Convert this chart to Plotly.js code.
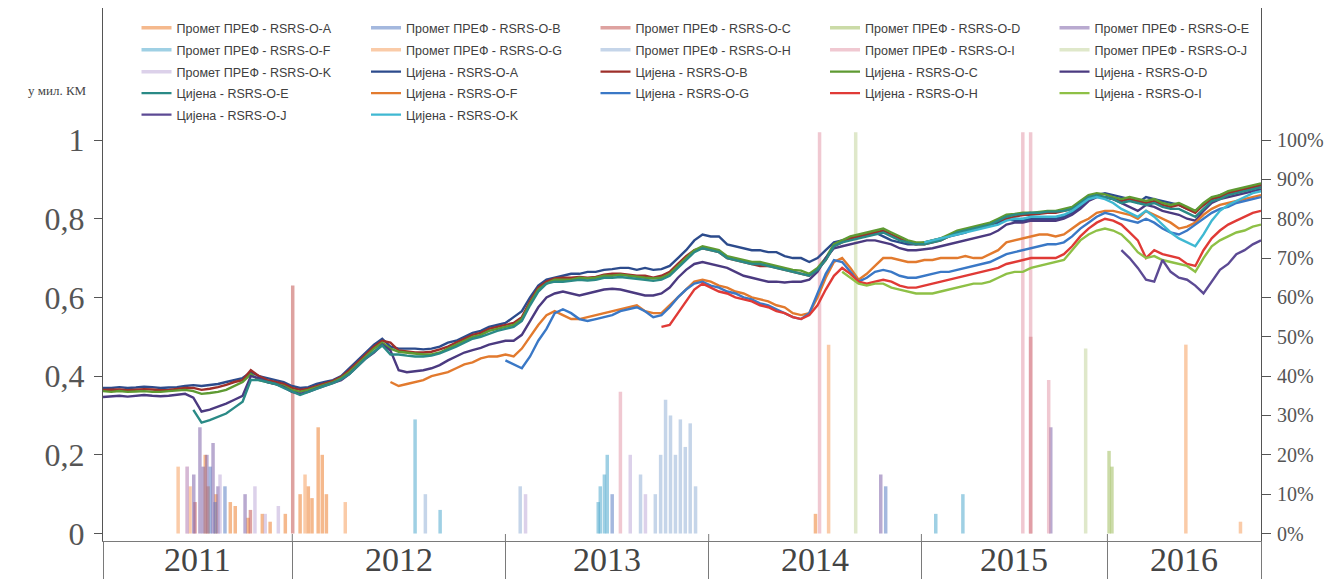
<!DOCTYPE html>
<html>
<head>
<meta charset="utf-8">
<script src="https://cdn.plot.ly/plotly-3.0.1.min.js"></script>
<style>html,body{margin:0;padding:0;background:#fff;}#chart{width:1332px;height:581px;}</style>
</head>
<body>
<div id="chart"></div>
<script>
// ---- time axis (trading-week index) ----
const yearLabels = ['2011', '2012', '2013', '2014', '2015', '2016'];
const yearBounds = [0, 46.1, 98.0, 147.5, 199.3, 244.6, 282];
const sampleStep = 2; // weeks between price observations
const nSamples = 142;

const seriesCodes = ['A', 'B', 'C', 'D', 'E', 'F', 'G', 'H', 'I', 'J', 'K'];

// ---- Промет ПРЕФ (turnover, million KM): spike weeks and values ----
const promA_w = [24.9, 25.6, 27.5, 31.0, 32.2, 35.3, 38.8, 40.7, 44.4, 48.0, 50.0, 50.9, 52.4, 53.4, 54.4, 173.5];
const promA_v = [0.20, 0.12, 0.10, 0.08, 0.07, 0.04, 0.05, 0.03, 0.05, 0.10, 0.12, 0.09, 0.27, 0.20, 0.10, 0.05];
const promB_w = [26.1, 27.3, 29.7, 124.0, 190.6];
const promB_v = [0.17, 0.08, 0.12, 0.10, 0.12];
const promC_w = [22.4, 35.9, 46.2, 225.9];
const promC_v = [0.08, 0.06, 0.63, 0.50];
const promD_w = [245.0, 245.7];
const promD_v = [0.21, 0.17];
const promE_w = [22.1, 23.6, 24.4, 25.3, 26.8, 28.0, 34.6, 189.4, 230.8];
const promE_v = [0.15, 0.27, 0.17, 0.20, 0.23, 0.12, 0.10, 0.15, 0.27];
const promF_w = [76.0, 82.1, 120.6, 121.1, 122.1, 122.8, 202.8, 209.4];
const promF_v = [0.29, 0.06, 0.08, 0.12, 0.15, 0.20, 0.05, 0.10];
const promG_w = [18.3, 21.2, 49.2, 59.0, 176.7, 263.7, 277.0];
const promG_v = [0.17, 0.12, 0.15, 0.08, 0.48, 0.48, 0.03];
const promH_w = [78.5, 101.6, 130.9, 134.5, 135.8, 137.0, 138.2, 139.4, 140.6, 141.8, 143.0, 144.3];
const promH_v = [0.10, 0.12, 0.15, 0.10, 0.20, 0.34, 0.30, 0.20, 0.29, 0.22, 0.28, 0.12];
const promI_w = [20.5, 126.0, 174.5, 224.0, 225.9, 230.3];
const promI_v = [0.17, 0.36, 1.02, 1.02, 1.02, 0.39];
const promJ_w = [183.3, 239.3];
const promJ_v = [1.02, 0.47];
const promK_w = [20.5, 28.5, 37.0, 39.5, 42.7, 102.9, 128.4, 132.1];
const promK_v = [0.17, 0.15, 0.12, 0.05, 0.07, 0.10, 0.20, 0.10];

// ---- Цијена (price, % of nominal), one value every 2 weeks from start index ----
const priceA_start = 0;
const priceA = [37.0,37.0,37.2,37.0,37.1,37.3,37.2,37.0,37.1,37.2,37.5, 37.7,37.5,37.8,38.0,38.5,39.0, 39.5,41.0,40.0,39.5, 39.0,38.5,37.5,37.0, 37.2,38.0,38.5,39.0,40.0,42.0, 44.0,46.0,48.0,49.5,47.5, 47.0,47.0,47.0,46.8,47.0, 47.5,48.5,49.0,50.0,51.0, 51.5,52.5,53.0,53.5,
 55.0,56.5,60.0,63.0,64.5,65.0, 65.5,66.0,66.0,66.5,66.5, 67.0,67.2,67.5,67.5,67.0, 67.5,67.0,67.2,68.0,70.0, 72.0,74.5,76.0,75.5, 75.5,73.5,73.0,72.5,72.0,72.0, 71.5,71.5,70.5,70.0,70.0, 69.0,70.0,72.0,74.0,74.5, 75.0,75.5,76.0,76.5,75.5, 74.5,74.0,73.5,73.5,74.0, 74.5,75.0,75.5,76.0,76.5, 77.5,78.0,78.5,79.0,80.0, 79.5,79.5,80.0,80.0,80.0, 80.0,80.5,81.5,83.0,85.0, 86.0,86.5,86.0,85.5,85.0, 84.0,85.5,85.0,84.5,84.0, 83.5,82.5,82.0,83.5,85.0, 86.0,86.5,87.0,87.5,88.0,88.5];
const priceB_start = 0;
const priceB = [36.5,36.5,36.6,36.4,36.5,36.7,36.6,36.4,36.5,36.7,37.0, 37.0,36.5,36.8,37.2,37.8,38.5, 39.0,41.5,40.0,39.0, 38.5,38.0,37.0,36.5, 36.8,37.5,38.0,38.8,39.8,41.5, 43.5,45.5,47.5,49.0,48.5, 46.5,46.2,46.0,46.0,46.2, 46.8,47.5,48.5,49.5,50.5, 51.0,52.0,52.5,53.0,
 53.5,55.0,59.0,62.5,64.0,64.8, 65.0,65.0,65.2,65.0,65.2, 65.8,66.0,66.0,65.8,65.5, 65.5,65.0,65.5,66.5,68.5, 70.5,72.0,72.5,72.0, 71.5,70.0,69.5,69.0,68.5,68.0, 68.0,67.5,67.0,66.5,66.0, 65.5,67.0,69.5,73.0,74.0, 75.0,75.5,76.0,76.5,77.0, 76.0,75.0,74.0,73.5,73.5, 74.0,74.5,75.5,76.5,77.0, 77.5,78.0,78.5,79.5,80.0, 80.5,81.0,81.0,81.2,81.5, 81.5,82.0,82.5,84.0,85.5, 86.0,85.5,85.0,84.5,85.0, 84.5,84.0,84.5,83.5,83.0, 83.5,82.5,81.5,83.5,85.0, 85.5,86.5,87.0,87.5,88.0,88.5];
const priceC_start = 0;
const priceC = [36.2,36.0,36.2,36.0,36.1,36.2,36.0,36.0,36.2,36.3,36.5, 36.2,35.5,35.7,36.0,36.5,37.5, 38.5,40.5,39.0,38.5, 38.0,37.5,36.5,36.0, 36.5,37.2,37.8,38.5,39.5,41.0, 43.0,45.0,47.0,48.5,47.0, 46.2,46.0,45.8,45.5,45.5, 46.0,47.0,48.0,49.0,50.0, 50.5,51.5,52.0,52.5,
 53.0,54.5,58.5,62.0,63.5,64.5, 64.5,64.5,65.0,64.8,65.0, 65.5,65.5,65.8,65.5,65.2, 65.0,64.8,65.0,66.0,68.0, 70.0,72.0,73.0,72.5, 72.0,70.5,70.0,69.5,69.0,69.0, 68.5,68.0,67.5,67.0,66.8, 66.0,67.5,70.0,73.5,74.5, 75.5,76.0,76.5,77.0,77.5, 76.5,75.5,74.5,74.0,74.0, 74.5,75.0,76.0,77.0,77.5, 78.0,78.5,79.0,80.0,81.0, 81.2,81.5,81.5,81.8,82.0, 82.0,82.5,83.0,84.5,86.0, 86.5,86.2,85.5,85.0,85.5, 85.0,84.5,85.0,84.0,83.5, 84.0,83.0,82.0,84.0,85.5, 86.0,87.0,87.5,88.0,88.5,89.0];
const priceD_start = 0;
const priceD = [34.7,34.8,35.0,34.8,35.0,35.2,35.0,34.9,35.0,35.2,35.5, 34.5,31.0,31.5,32.2,33.0,34.0, 35.0,40.0,39.5,38.5, 38.0,37.2,36.0,35.5, 36.0,36.8,37.5,38.2,39.0,40.5, 42.5,44.5,46.0,48.0,46.5, 41.5,41.0,41.2,41.5,42.0, 42.8,44.0,45.0,46.0,46.6, 47.2,48.0,48.5,49.0,
 49.0,50.5,54.0,57.5,60.0,61.0, 61.5,61.0,60.5,61.0,61.5, 62.0,62.2,62.0,61.5,61.0, 60.5,60.5,61.0,62.5,65.0, 67.0,68.5,69.0,68.5, 68.0,67.5,66.5,65.5,65.0,64.5, 64.0,64.0,63.8,64.0,64.0, 64.5,66.5,70.0,72.5,73.0, 73.5,74.0,74.5,74.5,74.0, 73.5,72.5,72.0,72.0,72.2, 72.5,73.0,73.5,74.0,74.5, 75.0,75.5,76.0,77.0,78.5, 79.0,79.0,79.5,79.5,79.5, 79.5,80.0,81.0,82.5,84.5, 85.5,85.5,85.0,84.0,83.0, 82.0,83.5,83.0,82.0,81.5, 81.0,80.0,79.5,82.0,84.0, 85.0,85.5,86.0,86.5,87.0,87.5];
const priceE_start = 11;
const priceE = [31.4,28.2,28.8,29.6,30.5,32.0,33.5, 39.0,39.0,38.5, 38.0,37.0,36.0,35.2, 36.0,36.8,37.5,38.2,39.2,40.5, 42.5,44.5,46.2,47.8,45.5, 45.5,45.2,45.0,45.0,45.2, 45.8,46.6,47.5,48.5,49.5, 50.0,50.8,51.5,52.0,
 52.5,54.0,58.0,61.5,63.5,64.0, 64.0,64.2,64.5,64.3,64.5, 65.0,65.0,65.2,65.0,64.8, 64.5,64.2,64.5,65.5,67.5, 69.5,71.5,72.5,72.0, 71.5,70.0,69.5,69.0,68.5,68.5, 68.0,67.5,67.0,66.5,66.0, 65.5,67.0,69.5,73.0,74.0, 74.5,75.0,75.5,76.0,76.5, 75.5,74.5,74.0,73.5,73.5, 74.0,74.5,75.5,76.5,77.0, 77.5,78.0,78.5,79.5,80.5, 81.0,81.2,81.5,81.5,81.8, 81.8,82.0,82.5,84.0,85.5, 86.0,85.5,85.0,84.0,84.5, 84.0,83.5,84.0,83.0,82.5, 82.5,81.5,80.5,82.5,84.5, 85.0,86.0,86.5,87.0,87.5,88.0];
const priceF_start = 35;
const priceF = [38.5,37.5,38.0,38.5,39.0,40.0, 40.5,41.0,42.0,43.0,43.5, 44.5,45.0,45.0,45.5,
 45.0,47.0,50.0,53.0,55.5,56.5, 55.5,54.5,54.5,55.0,55.5, 56.0,56.5,57.0,57.5,58.0, 56.5,56.0,56.0,58.0,60.0, 62.0,64.0,64.5,64.0, 63.0,62.5,61.5,61.0,60.0,59.5, 59.0,58.0,57.5,56.0,55.5, 56.0,60.0,65.0,69.0,70.0, 67.5,64.5,66.0,68.0,70.0, 70.0,69.5,69.0,69.0,69.5, 69.5,70.0,70.0,70.0,70.5, 70.0,70.0,71.0,72.0,74.0, 74.5,75.0,75.5,76.0,76.0, 75.5,76.0,77.5,79.0,80.0, 81.5,82.0,82.0,81.5,81.0, 80.0,82.0,81.0,80.0,79.0, 77.5,78.0,79.0,81.0,82.5, 83.5,84.0,84.5,85.0,85.5,86.0];
const priceG_start = 49;
const priceG = [44.0, 43.0,42.0,45.0,49.0,52.0,56.0, 57.0,56.0,54.5,54.0,54.5, 55.0,55.5,56.5,57.0,57.5, 56.5,55.0,55.5,57.5,60.0, 62.0,63.5,64.0,63.0, 62.5,61.5,61.0,60.0,59.5,58.5, 58.0,57.0,56.0,55.0,54.5, 56.0,61.0,66.0,69.5,69.0, 66.5,64.0,65.0,66.5,67.0, 66.5,65.5,65.0,65.0,65.5, 66.0,66.5,66.5,67.0,67.5, 68.0,68.5,69.0,70.0,71.0, 71.5,72.0,72.5,73.0,73.5, 73.5,74.0,75.5,77.5,79.0, 80.5,81.5,81.0,80.0,79.5, 79.0,80.0,79.0,77.5,76.5, 76.0,77.0,78.5,80.0,81.5, 82.5,83.0,84.0,84.5,85.0,85.5];
const priceH_start = 68;
const priceH = [52.5,53.0,56.0, 59.0,62.0,63.5,62.5, 61.5,61.0,60.0,59.5,59.0,58.0, 57.5,56.5,56.0,55.0,54.5, 55.5,58.0,62.0,65.5,67.5, 66.0,64.0,63.5,64.0,64.5, 64.0,63.0,62.5,62.5,63.0, 63.5,64.0,64.5,65.0,65.5, 66.0,66.5,67.0,67.5,68.5, 69.0,69.5,70.0,70.0,70.0, 70.0,71.0,73.0,75.5,77.5, 79.0,80.0,79.5,78.5,76.5, 74.5,70.0,72.0,71.0,70.5, 70.0,68.5,68.0,72.0,75.0, 77.0,78.5,79.5,80.5,81.5,82.0];
const priceI_start = 90;
const priceI = [66.5, 65.0,63.5,63.0,63.5,63.5, 62.5,62.0,61.5,61.0,61.0, 61.0,61.5,62.0,62.5,63.0, 63.5,63.5,64.0,65.0,66.0, 66.5,66.5,67.5,68.0,68.5, 69.0,69.5,72.0,74.5,76.0, 77.0,77.5,77.0,76.0,74.0, 71.5,70.0,70.5,69.5,69.0, 68.5,68.0,66.5,70.0,73.0, 74.5,75.5,76.5,77.0,78.0,78.5];
const priceJ_start = 124;
const priceJ = [72.0,70.0,67.5,64.5,64.0,69.5,66.5,65.0,64.5,63.0,61.0,64.0,67.0,68.5,71.0,72.0,73.5,74.5];
const priceK_start = 100;
const priceK = [74.0, 74.5,75.0,75.5,76.0,76.5, 77.0,77.5,78.0,78.5,79.5, 80.0,80.0,80.5,80.5,80.5, 80.5,81.0,82.0,83.5,85.0, 85.5,85.0,84.0,82.5,81.5, 80.5,82.0,80.5,78.5,76.5, 75.0,74.0,73.0,76.0,79.5, 82.0,83.5,84.5,85.5,86.5,87.0];

// ---- tick labels ----
const leftTickVals = [0, 0.2, 0.4, 0.6, 0.8, 1];
const leftTickText = ['0', '0,2', '0,4', '0,6', '0,8', '1'];
const rightTickVals = [0, 10, 20, 30, 40, 50, 60, 70, 80, 90, 100];
const rightTickText = ['0%', '10%', '20%', '30%', '40%', '50%', '60%', '70%', '80%', '90%', '100%'];
const unitLabel = 'у мил. КМ';

// ---- colours ----
const promColors = ['rgba(236,128,48,0.55)', 'rgba(90,125,195,0.55)', 'rgba(195,85,82,0.55)', 'rgba(160,190,95,0.55)', 'rgba(128,100,170,0.55)',
  'rgba(80,170,205,0.55)', 'rgba(246,160,96,0.55)', 'rgba(150,178,215,0.55)', 'rgba(228,155,172,0.55)', 'rgba(196,214,158,0.55)', 'rgba(192,172,216,0.55)'];
const priceColors = ['#2C4B8C', '#9E2F2A', '#5E9A32', '#4B3A80', '#2A8A86', '#E27A2E', '#3A78C6', '#E03A36', '#8EC046', '#5C4A94', '#3FB8D2'];

// ---- build traces ----
const promW = [promA_w, promB_w, promC_w, promD_w, promE_w, promF_w, promG_w, promH_w, promI_w, promJ_w, promK_w];
const promV = [promA_v, promB_v, promC_v, promD_v, promE_v, promF_v, promG_v, promH_v, promI_v, promJ_v, promK_v];
const prices = [priceA, priceB, priceC, priceD, priceE, priceF, priceG, priceH, priceI, priceJ, priceK];
const starts = [priceA_start, priceB_start, priceC_start, priceD_start, priceE_start, priceF_start, priceG_start, priceH_start, priceI_start, priceJ_start, priceK_start];
const sampleWeeks = Array.from({length: nSamples}, (_, i) => i * sampleStep);

const legendIds = ['legend', 'legend2', 'legend3', 'legend4', 'legend5'];
const traces = [];
let idx = 0;
seriesCodes.forEach((c, i) => {
  const x = [], y = [];
  promW[i].forEach((w, j) => { x.push(w, w, null); y.push(0, promV[i][j], null); });
  traces.push({type: 'scatter', mode: 'lines', x, y, xaxis: 'x', yaxis: 'y',
    name: 'Промет ПРЕФ - RSRS-O-' + c, line: {color: promColors[i], width: 3.5},
    legend: legendIds[Math.floor(idx / 5)], hoverinfo: 'skip'});
  idx++;
});
seriesCodes.forEach((c, i) => {
  const s = starts[i];
  traces.push({type: 'scatter', mode: 'lines', x: sampleWeeks.slice(s, s + prices[i].length), y: prices[i],
    xaxis: 'x', yaxis: 'y2', name: 'Цијена - RSRS-O-' + c,
    line: {color: priceColors[i], width: 2.4}, legend: legendIds[Math.floor(idx / 5)], hoverinfo: 'skip'});
  idx++;
});

// ---- layout ----
const mL = 103, mR = 71.3, mT = 8, mB = 40, W = 1332, H = 581;
const plotH = H - mT - mB;
const rowCentersPx = [28, 50, 72, 93.5, 115];
const legendFont = {family: 'Liberation Sans, Arial, sans-serif', size: 12.5, color: '#404040'};
const layout = {
  width: W, height: H,
  margin: {l: mL, r: mR, t: mT, b: mB, pad: 0},
  paper_bgcolor: '#ffffff', plot_bgcolor: '#ffffff',
  font: {family: 'Liberation Serif, serif', color: '#555555'},
  showlegend: true,
  xaxis: {range: [yearBounds[0], yearBounds[yearBounds.length - 1]], showgrid: false, zeroline: false,
    showline: true, linecolor: '#7a7a7a', linewidth: 1, tickmode: 'array', tickvals: yearBounds,
    ticks: 'outside', ticklen: 37, tickcolor: '#7a7a7a', tickwidth: 1, showticklabels: false, fixedrange: true},
  yaxis: {range: [-0.019, 1.3355], showgrid: false, zeroline: false, showline: true, linecolor: '#555555', linewidth: 1,
    tickmode: 'array', tickvals: leftTickVals, ticktext: leftTickText, ticks: 'outside', ticklen: 8, tickcolor: '#555555',
    tickfont: {family: 'Liberation Serif, serif', size: 32, color: '#555555'}, ticklabelstandoff: 3},
  yaxis2: {overlaying: 'y', side: 'right', range: [-1.9, 133.55], showgrid: false, zeroline: false, showline: true,
    linecolor: '#555555', linewidth: 1, tickmode: 'array', tickvals: rightTickVals, ticktext: rightTickText,
    ticks: 'outside', ticklen: 9, tickcolor: '#555555',
    tickfont: {family: 'Liberation Serif, serif', size: 20, color: '#555555'}, ticklabelstandoff: 2},
  annotations: [],
  shapes: [],
};
legendIds.forEach((id, r) => {
  layout[id] = {orientation: 'h', x: (136.5 - mL) / (W - mL - mR), xanchor: 'left',
    y: (H - mB - rowCentersPx[r]) / plotH, yanchor: 'middle', bgcolor: 'rgba(0,0,0,0)',
    font: legendFont, entrywidth: 184.5, entrywidthmode: 'pixels', itemwidth: 30, traceorder: 'normal'};
});
for (let i = 0; i < yearLabels.length; i++) {
  layout.annotations.push({x: (yearBounds[i] + yearBounds[i + 1]) / 2, xref: 'x', y: -(559 - (H - mB)) / plotH, yref: 'paper',
    text: yearLabels[i], showarrow: false, xanchor: 'center', yanchor: 'middle',
    font: {family: 'Liberation Serif, serif', size: 34, color: '#444444'}});
}
// year-boundary ticks poke slightly above the axis line
yearBounds.slice(1, -1).forEach(b => {
  layout.shapes.push({type: 'line', xref: 'x', yref: 'paper', x0: b, x1: b, y0: 0, y1: 7 / plotH,
    line: {color: '#7a7a7a', width: 1}});
});
layout.annotations.push({x: -(mL - 58) / (W - mL - mR), xref: 'paper', y: (H - mB - 90) / plotH, yref: 'paper',
  text: unitLabel, showarrow: false, xanchor: 'center', yanchor: 'middle',
  font: {family: 'Liberation Serif, serif', size: 13, color: '#444444'}});

Plotly.newPlot('chart', traces, layout, {displayModeBar: false, staticPlot: true});
</script>
</body>
</html>
